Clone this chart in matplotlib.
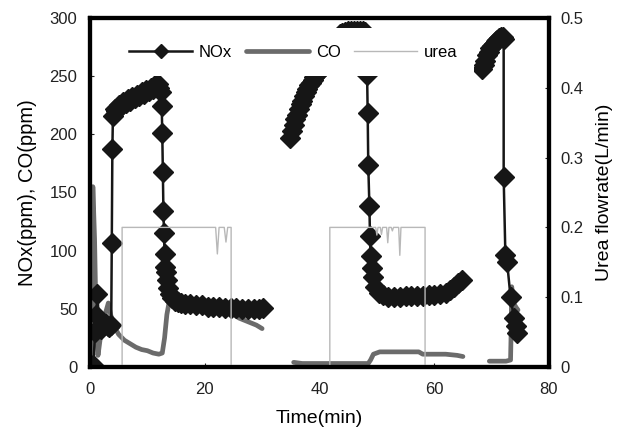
import matplotlib
matplotlib.use('Agg')
import matplotlib.pyplot as plt

plt.rcParams['font.family'] = ['Liberation Sans', 'DejaVu Sans']

# NOx (ppm), three runs
nox1_t = [0.0, 0.3, 0.6, 0.9, 1.1, 1.3, 1.6, 1.9, 2.2, 2.5, 2.8, 3.1, 3.4, 3.7,
          3.8, 3.9, 4.0, 4.3, 4.6, 5.0, 5.4, 5.8, 6.2, 6.6, 7.0, 7.4, 7.8, 8.2,
          8.6, 9.0, 9.4, 9.8, 10.2, 10.6, 11.0, 11.4, 11.8, 12.1, 12.3, 12.5,
          12.6, 12.7, 12.8, 12.9, 13.0, 13.1, 13.2, 13.4, 13.6, 13.9, 14.3,
          14.8, 15.3, 15.8, 16.5, 17.5, 18.5, 19.5, 20.5, 21.5, 22.5, 23.5,
          24.5, 25.5, 26.5, 27.5, 28.5, 29.5, 30.2]
nox1_v = [0, 0, 2, 30, 45, 63, 34, 33, 35, 36, 37, 35, 34, 36,
          107, 187, 216, 222, 220, 225, 224, 228, 227, 230, 229, 232, 231, 234,
          233, 236, 235, 238, 237, 240, 239, 242, 243, 240, 236, 224,
          201, 168, 134, 115, 97, 86, 82, 75, 68, 63, 59,
          57, 56, 55, 54, 54, 53, 53, 52, 52, 52, 51,
          51, 51, 50, 50, 50, 50, 51]

nox2_t = [34.9, 35.2, 35.5, 35.8, 36.1, 36.4, 36.7, 37.0, 37.3, 37.6, 37.9,
          38.2, 38.5, 38.8, 39.1, 39.4, 39.7, 40.0, 40.3, 40.6, 41.0, 41.5,
          42.0, 42.5, 43.0, 43.5, 44.0, 44.5, 45.0, 45.5, 46.0, 46.5, 47.0,
          47.5, 48.0, 48.3, 48.4, 48.5, 48.7, 48.8, 48.9, 49.1, 49.3, 49.7,
          50.3, 51.0, 52.0, 53.0, 54.0, 55.0, 56.0, 57.0, 58.0, 59.0, 60.0,
          61.0, 62.0, 62.8, 63.5, 64.2, 64.8]
nox2_v = [197, 203, 208, 213, 217, 222, 226, 229, 233, 236, 239,
          242, 244, 247, 249, 251, 253, 255, 258, 261, 265, 270,
          275, 279, 283, 286, 287, 288, 289, 289, 289, 289, 289,
          289, 288, 251, 218, 174, 138, 113, 95, 85, 77, 69,
          64, 62, 60, 60, 60, 61, 61, 61, 61, 62, 62,
          63, 64, 66, 69, 72, 75]

nox3_t = [68.3, 68.6, 68.9, 69.2, 69.5, 69.8, 70.1, 70.4, 70.7, 71.0, 71.3,
          71.6, 71.9, 72.1, 72.1, 72.4, 72.7, 73.3, 73.9, 74.2, 74.5]
nox3_v = [256, 260, 263, 268, 271, 274, 276, 278, 280, 281, 283,
          284, 284, 282, 163, 96, 90, 60, 42, 35, 29]

# CO (ppm)
co1_t = [0.0, 0.3, 0.5, 0.8, 1.1, 1.4, 1.8, 2.3, 2.8, 3.2, 3.6, 4.2, 5.0,
         6.0, 7.0, 8.0, 9.0, 10.0, 11.0, 12.0, 12.6, 13.0, 13.4, 13.8, 14.2,
         15.0, 16.0, 17.0, 18.0, 19.0, 20.0, 21.0, 22.0, 23.0, 24.0, 25.0,
         26.0, 27.0, 28.0, 29.0, 30.0]
co1_v = [0, 5, 155, 110, 30, 10, 25, 40, 48, 55, 45, 35, 28,
         23, 20, 17, 15, 14, 12, 11, 12, 25, 45, 56, 58,
         55, 54, 53, 52, 51, 50, 49, 48, 47, 46, 45,
         42, 40, 38, 36, 33]

co2_t = [35.5, 37.0, 39.0, 41.0, 43.0, 45.0, 47.0, 48.5, 48.9, 49.4, 50.5,
         52.0, 54.0, 56.0, 57.3, 58.0, 60.0, 62.0, 64.0, 65.0]
co2_v = [4, 3, 3, 3, 3, 3, 3, 3, 6, 11, 13,
         13, 13, 13, 13, 11, 11, 11, 10, 9]

co3_t = [69.6, 71.0, 72.5, 73.3, 73.4, 73.5, 73.8, 74.3, 74.6]
co3_v = [5, 5, 5, 6, 30, 69, 55, 51, 49]

# urea flow rate (L/min)
urea_t = [0, 5.6, 5.6, 21.9, 22.2, 22.5, 23.4, 23.7, 24.0, 24.6, 24.6,
          41.8, 41.8, 49.8, 50.0, 50.2, 50.6, 50.8, 51.0, 51.7, 51.9, 52.1,
          52.5, 52.7, 52.9, 53.8, 54.0, 54.2, 58.4, 58.4, 76]
urea_v = [0, 0, 0.2, 0.2, 0.162, 0.2, 0.2, 0.179, 0.2, 0.2, 0,
          0, 0.2, 0.2, 0.189, 0.2, 0.2, 0.19, 0.2, 0.2, 0.178, 0.2,
          0.2, 0.195, 0.2, 0.2, 0.16, 0.2, 0.2, 0, 0]

fig = plt.figure(figsize=(6.24, 4.37), dpi=100)
ax = fig.add_axes([0.1442, 0.1602, 0.7356, 0.7986])
ax2 = ax.twinx()

co_kw = dict(color='#6b6b6b', lw=3.4, solid_capstyle='round')
nox_kw = dict(color='#161616', lw=1.8, marker='D', ms=10, mec='#161616')
ax.plot(co1_t, co1_v, **co_kw)
ax.plot(co2_t, co2_v, **co_kw)
ax.plot(co3_t, co3_v, **co_kw)
ax.plot(nox1_t, nox1_v, **nox_kw)
ax.plot(nox2_t, nox2_v, **nox_kw)
ax.plot(nox3_t, nox3_v, **nox_kw)
ax2.plot(urea_t, urea_v, color='#b8b8b8', lw=1.0)

ax.set_xlim(0, 80)
ax.set_ylim(0, 300)
ax2.set_ylim(0, 0.5)
ax.set_xticks([0, 20, 40, 60, 80])
ax.set_yticks(range(0, 301, 50))
ax2.set_yticks([0, 0.1, 0.2, 0.3, 0.4, 0.5])
ax2.set_yticklabels(['0', '0.1', '0.2', '0.3', '0.4', '0.5'])

for a in (ax, ax2):
    for s in a.spines.values():
        s.set_linewidth(3)
        s.set_color('black')
    a.tick_params(direction='in', length=3, width=0.8, labelsize=12,
                  colors='#222222')
ax.tick_params(axis='x', pad=11)
ax.tick_params(axis='y', pad=9)
ax2.tick_params(axis='y', pad=8)

ax.set_xlabel('Time(min)', fontsize=14, labelpad=9)
ax.set_ylabel('NOx(ppm), CO(ppm)', fontsize=14.5, labelpad=9)
ax2.set_ylabel('Urea flowrate(L/min)', fontsize=14, labelpad=9)

handles = [
    plt.Line2D([], [], color='#161616', lw=1.8, marker='D', ms=7),
    plt.Line2D([], [], **co_kw),
    plt.Line2D([], [], color='#b8b8b8', lw=1.0),
]
leg = ax2.legend(handles, ['NOx', 'CO', 'urea'], loc='center',
                 bbox_to_anchor=(0.443, 0.902), ncol=3, fontsize=12,
                 handlelength=3.8, handletextpad=0.4, columnspacing=0.8,
                 borderpad=1.0, frameon=True, fancybox=False, framealpha=1)
leg.get_frame().set_edgecolor('none')
leg.get_frame().set_facecolor('white')

fig.savefig('out.png', dpi=100)
